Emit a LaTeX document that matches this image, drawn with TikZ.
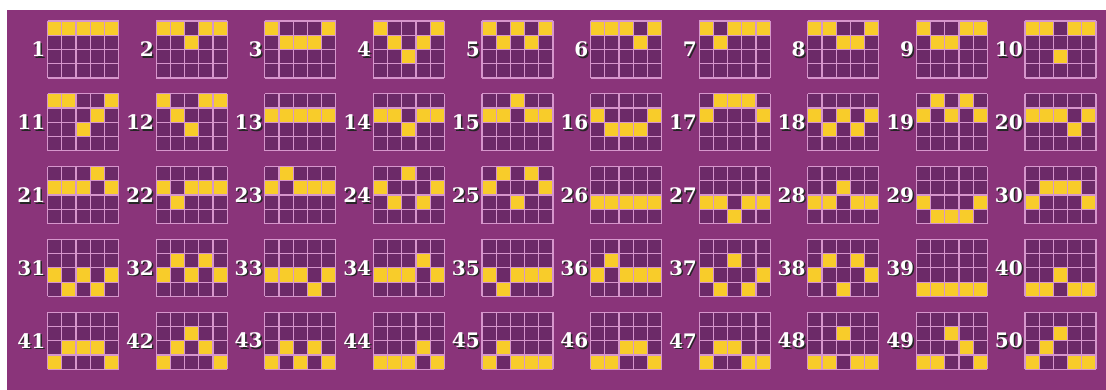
\documentclass[tikz,border=0pt]{standalone}
\usepackage{fontspec}
\usepackage{xcolor}
\usepackage{tikz}
\newfontfamily\numfont{DejaVu Serif}
\definecolor{bgpurple}{RGB}{138,52,122}
\definecolor{cellpurple}{RGB}{108,42,104}
\definecolor{gridpink}{RGB}{214,150,204}
\definecolor{lineyellow}{RGB}{248,204,42}
\begin{document}
\begin{tikzpicture}[
  x=1pt, y=-1pt,
  numlbl/.style = {anchor=east, inner sep=0pt, text=white,
                   font=\numfont\bfseries\fontsize{20}{20}\selectfont},
  numshadow/.style = {numlbl, text=black!85},
  gridline/.style = {gridpink, line width=1.2pt},
]
  \useasboundingbox (0,0) rectangle (1106,390);
  \fill[white] (0,0) rectangle (1106,390);
  \fill[bgpurple] (7,10) rectangle (1106,390);
  % one entry per line: number / lit row of each of the five columns
  \foreach \n/\ra/\rb/\rc/\rd/\re in {
      1/0/0/0/0/0, 2/0/0/1/0/0, 3/0/1/1/1/0, 4/0/1/2/1/0, 5/0/1/0/1/0,
      6/0/0/0/1/0, 7/0/1/0/0/0, 8/0/0/1/1/0, 9/0/1/1/0/0, 10/0/0/2/0/0,
      11/0/0/2/1/0, 12/0/1/2/0/0, 13/1/1/1/1/1, 14/1/1/2/1/1, 15/1/1/0/1/1,
      16/1/2/2/2/1, 17/1/0/0/0/1, 18/1/2/1/2/1, 19/1/0/1/0/1, 20/1/1/1/2/1,
      21/1/1/1/0/1, 22/1/2/1/1/1, 23/1/0/1/1/1, 24/1/2/0/2/1, 25/1/0/2/0/1,
      26/2/2/2/2/2, 27/2/2/3/2/2, 28/2/2/1/2/2, 29/2/3/3/3/2, 30/2/1/1/1/2,
      31/2/3/2/3/2, 32/2/1/2/1/2, 33/2/2/2/3/2, 34/2/2/2/1/2, 35/2/3/2/2/2,
      36/2/1/2/2/2, 37/2/3/1/3/2, 38/2/1/3/1/2, 39/3/3/3/3/3, 40/3/3/2/3/3,
      41/3/2/2/2/3, 42/3/2/1/2/3, 43/3/2/3/2/3, 44/3/3/3/2/3, 45/3/2/3/3/3,
      46/3/3/2/2/3, 47/3/2/2/3/3, 48/3/3/1/3/3, 49/3/3/1/2/3, 50/3/2/1/3/3} {
    \pgfmathtruncatemacro{\col}{mod(\n-1,10)}
    \pgfmathtruncatemacro{\row}{div(\n-1,10)}
    \begin{scope}[shift={(47.5+\col*108.6, 21+\row*72.8)}]
      \fill[cellpurple] (0,0) rectangle (71,57);
      \foreach \c/\r in {0/\ra, 1/\rb, 2/\rc, 3/\rd, 4/\re}
        \fill[lineyellow] (\c*14.2,\r*14.25) rectangle ++(14.2,14.25);
      \foreach \i in {0,...,5}
        \draw[gridline] (\i*14.2,0) -- (\i*14.2,57);
      \foreach \j in {0,...,4}
        \draw[gridline] (0,\j*14.25) -- (71,\j*14.25);
      \node[numshadow] (sh\n) at (-0.5,30) {\n};
      \node[numlbl] (lbl\n) at (-2,28.5) {\n};
    \end{scope}
  }
\end{tikzpicture}
\end{document}
